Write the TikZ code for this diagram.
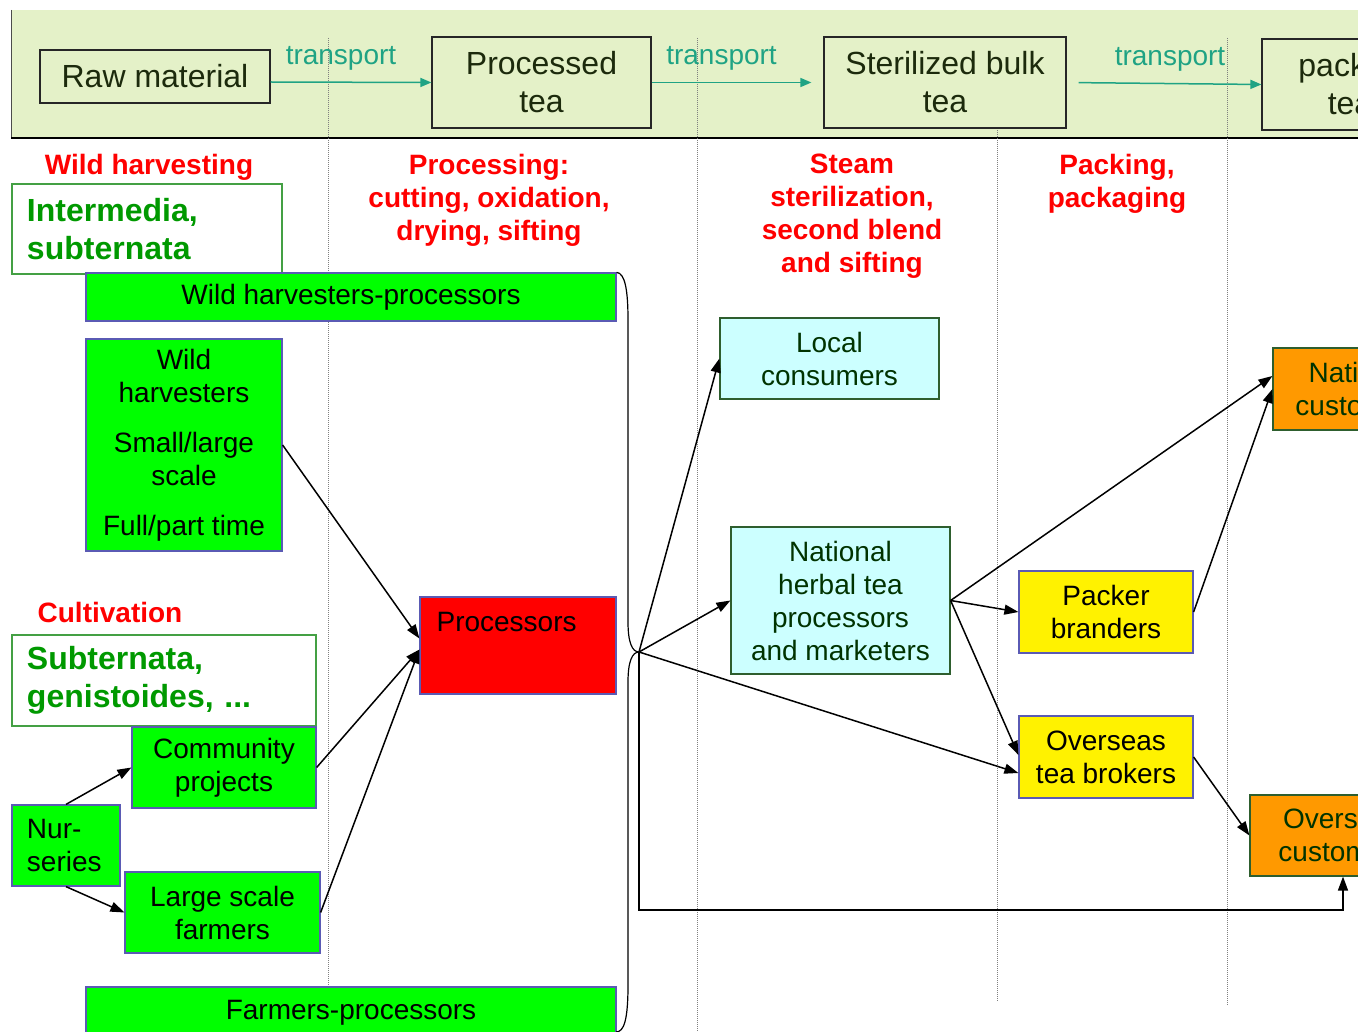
\documentclass[tikz,border=0pt]{standalone}
\usepackage{fontspec}
\setmainfont{Liberation Sans}
\usetikzlibrary{arrows.meta, positioning}

\definecolor{bannerbg}{HTML}{E4F1C8}
\definecolor{bannertext}{HTML}{1C2A0C}
\definecolor{teal2}{HTML}{1FA384}
\definecolor{limebox}{HTML}{00FF00}
\definecolor{edgeblue}{HTML}{5A5AB4}
\definecolor{edgegreen}{HTML}{2E5E2E}
\definecolor{specgreen}{HTML}{009900}
\definecolor{specedge}{HTML}{44A044}
\definecolor{darktext}{HTML}{003300}
\definecolor{cyanbox}{HTML}{CCFFFF}
\definecolor{orangebox}{HTML}{FF9900}

\begin{document}
\begin{tikzpicture}[x=1pt, y=-1pt]
    \tikzstyle{block} = [rectangle, draw, inner sep=0pt, align=center, line width=1.2pt, font=\fontsize{28}{33}\selectfont]
    \tikzstyle{stage} = [block, draw=black!85, text=bannertext, font=\fontsize{32}{38}\selectfont]
    \tikzstyle{actor} = [block, fill=limebox, draw=edgeblue]
    \tikzstyle{consumer} = [block, fill=cyanbox, draw=edgegreen, text=darktext]
    \tikzstyle{trader} = [block, fill=yellow, draw=edgeblue]
    \tikzstyle{market} = [block, fill=orangebox, draw=edgegreen, text=darktext]
    \tikzstyle{species} = [block, draw=specedge, align=left, inner xsep=15pt, text=specgreen, font=\bfseries\fontsize{32}{38}\selectfont]
    \tikzstyle{heading} = [align=center, inner sep=0pt, text=red, font=\bfseries\fontsize{28}{33}\selectfont]
    \tikzstyle{flow} = [-{Triangle[length=14pt, width=10pt]}, line width=1.5pt]
    \tikzstyle{transport} = [-{Triangle[length=11pt, width=9pt]}, line width=1.5pt, draw=teal2]
    \tikzstyle{tlabel} = [midway, anchor=base, inner sep=0pt, yshift=18pt, text=teal2, font=\fontsize{28}{33}\selectfont]
    \tikzstyle{divider} = [gray, line width=1pt, dash pattern=on 1pt off 1pt]

    \clip (0,0) rectangle (1358,1032);

    % Banner
    \fill[bannerbg] (11,10) rectangle (1358,138);
    \draw[black!70, line width=0.8pt] (11,10) -- (11,138);
    \draw[line width=2pt] (11,138) -- (1358,138);

    % Stage dividers
    \draw[divider] (328,38) -- (328,1032);
    \draw[divider] (697,38) -- (697,1032);
    \draw[divider] (997,128) -- (997,1002);
    \draw[divider] (1227,38) -- (1227,1005);

    % Product stages
    \node[stage, minimum width=230pt, minimum height=53pt] (raw) at (155,76.5) {Raw material};
    \node[stage, minimum width=219pt, minimum height=91pt] (ptea) at (541.5,82.5) {Processed\\tea};
    \node[stage, minimum width=242pt, minimum height=91pt] (stea) at (945,82.5) {Sterilized bulk\\tea};
    \node[stage, minimum width=176pt, minimum height=91pt] (ktea) at (1350,84.5) {packed\\tea};

    \draw[transport] ([yshift=-5.5pt]raw.east) -- (ptea.west) node[tlabel, xshift=-10pt] {transport};
    \draw[transport, shorten >=12pt] (ptea.east) -- (stea.west) node[tlabel, xshift=-16pt] {transport};
    \draw[transport, shorten <=12pt] (stea.east) -- (ktea.west) node[tlabel, xshift=6pt] {transport};

    % Activity headings
    \node[heading] (hwild) at (149,167) {Wild harvesting};
    \node[heading] (hproc) at (489,200) {Processing:\\cutting, oxidation,\\drying, sifting};
    \node[heading] (hsteam) at (852,216.5) {Steam\\sterilization,\\second blend\\and sifting};
    \node[heading] (hpack) at (1117,183.5) {Packing,\\packaging};
    \node[heading] (hcult) at (110,612) {Cultivation};

    % Species
    \node[species, text width=240pt, minimum height=90pt] (spwild) at (147,229) {Intermedia,\\subternata};
    \node[species, text width=274pt, minimum height=91pt] (spcult) at (164,680.5) {Subternata,\\genistoides, ...};

    % Producers
    \node[actor, minimum width=530pt, minimum height=48pt] (whp) at (351,297) {Wild harvesters-processors};
    \node[actor, minimum width=196pt, minimum height=212pt] (wh) at (184,445) {Wild\\harvesters\\[17pt]Small/large\\scale\\[17pt]Full/part time};
    \node[actor, minimum width=184pt, minimum height=81pt] (comm) at (224,767.5) {Community\\projects};
    \node[actor, align=left, text width=78pt, inner xsep=15pt, minimum height=81pt] (nur) at (66,845.5) {Nur-\\series};
    \node[actor, minimum width=195pt, minimum height=81pt] (large) at (222.5,912.5) {Large scale\\farmers};
    \node[actor, minimum width=530pt, minimum height=52pt] (fp) at (351,1013) {Farmers-processors};
    \node[block, fill=red, draw=edgeblue, minimum width=196pt, minimum height=97pt,
          label={[anchor=base west, inner sep=0pt, xshift=17pt, yshift=-35pt, font=\fontsize{28}{33}\selectfont]north west:Processors}] (proc) at (518,645.5) {};

    % Buyers
    \node[consumer, minimum width=219pt, minimum height=81pt] (local) at (829.5,358.5) {Local\\consumers};
    \node[consumer, minimum width=219pt, minimum height=147pt] (nat) at (840.5,600.5) {National\\herbal tea\\processors\\and marketers};
    \node[trader, minimum width=174pt, minimum height=82pt] (packer) at (1106,612) {Packer\\branders};
    \node[trader, minimum width=174pt, minimum height=82pt] (obrok) at (1106,757) {Overseas\\tea brokers};
    \node[market, minimum width=174pt, minimum height=82pt] (natcust) at (1360,389) {National\\customers};
    \node[market, minimum width=186pt, minimum height=81pt] (ovcust) at (1343,835.5) {Overseas\\customers};

    % Brace round the producers
    \coordinate (hub) at (639,652);
    \coordinate (low) at (639,910);
    \draw[line width=1.2pt] (whp.north east) .. controls (625,273) and (628,290) .. (628,320)
        -- (628,622) .. controls (628,642) and (632,652) .. (hub)
        .. controls (632,652) and (628,662) .. (628,682)
        -- (628,985) .. controls (628,1020) and (624,1032) .. (616,1032);

    % Flows to processors
    \draw[flow] (nur.north) -- (comm.west);
    \draw[flow] (nur.south) -- (large.west);
    \draw[flow] (wh.east) -- ([yshift=7pt]proc.west);
    \draw[flow] (comm.east) -- ([yshift=-4pt]proc.west);
    \draw[flow] (large.east) -- ([yshift=-4pt]proc.west);

    % Flows to buyers
    \draw[flow] (hub) -- (local.west);
    \draw[flow] (hub) -- (nat.west);
    \draw[flow] (hub) -- ([yshift=-16pt]obrok.west);
    \draw[flow] (hub) -- (low) -| (ovcust.south);
    \draw[flow] (nat.east) -- ([yshift=13pt]natcust.west);
    \draw[flow] (nat.east) -- (packer.west);
    \draw[flow] (nat.east) -- ([yshift=2pt]obrok.west);
    \draw[flow] (packer.east) -- (natcust.west);
    \draw[flow] (obrok.east) -- (ovcust.west);
\end{tikzpicture}
\end{document}
